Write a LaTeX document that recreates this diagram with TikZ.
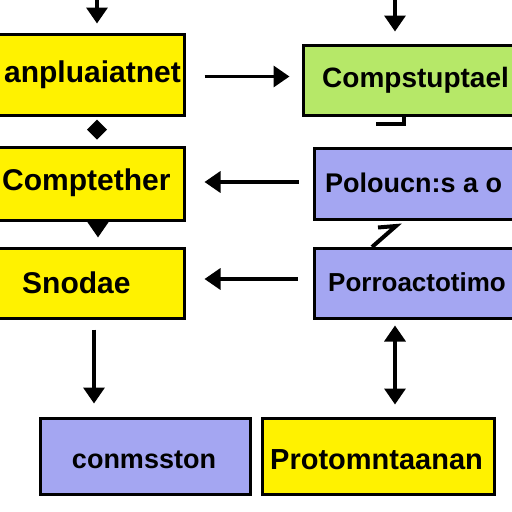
\documentclass[tikz,border=0pt]{standalone}
\usepackage{fontspec}
\setmainfont{Liberation Sans}
\usetikzlibrary{arrows.meta,calc}
\definecolor{boxyellow}{RGB}{255,242,0}
\definecolor{boxgreen}{RGB}{182,232,104}
\definecolor{boxpurple}{RGB}{164,166,242}
\tikzset{
  box/.style={draw=black, line width=3pt, inner sep=0pt},
  lbl/.style={inner sep=0pt, font=\fontsize{28}{30}\selectfont\bfseries},
  arr/.style={line width=3.5pt, -{Triangle[width=21pt,length=16pt]}},
  dblarr/.style={line width=3.5pt, {Triangle[width=21pt,length=16pt]}-{Triangle[width=21pt,length=16pt]}},
  tick/.style={line width=4pt, line join=miter}
}
\begin{document}
\begin{tikzpicture}[x=1pt,y=-1pt]
\useasboundingbox (0,0) rectangle (512,512);
\fill[white] (0,0) rectangle (512,512);
\clip (0,0) rectangle (512,512);
% boxes
\node[box, fill=boxyellow, minimum width=194pt, minimum height=81pt] (b1) at (87,74.5) {};
\node[box, fill=boxyellow, minimum width=194pt, minimum height=73pt] (b2) at (87,183.5) {};
\node[box, fill=boxyellow, minimum width=194pt, minimum height=70pt] (b3) at (87,283) {};
\node[box, fill=boxpurple, minimum width=210pt, minimum height=76pt] (b4) at (145,456) {};
\node[box, fill=boxgreen, minimum width=222pt, minimum height=70pt] (b5) at (414,80) {};
\node[box, fill=boxpurple, minimum width=211pt, minimum height=71pt] (b6) at (419.5,183.5) {};
\node[box, fill=boxpurple, minimum width=211pt, minimum height=70pt] (b7) at (419.5,283) {};
\node[box, fill=boxyellow, minimum width=232pt, minimum height=76pt] (b8) at (378,456) {};
% labels
\node[lbl, anchor=east, font=\fontsize{30}{32}\selectfont\bfseries] (t1) at (181,75) {anpluaiatnet};
\node[lbl, anchor=west, font=\fontsize{30}{32}\selectfont\bfseries] (t2) at (2,183) {Comptether};
\node[lbl, anchor=west, font=\fontsize{30}{32}\selectfont\bfseries] (t3) at (22,283) {Snodae};
\node[lbl, font=\fontsize{27}{29}\selectfont\bfseries] (t4) at (144,460) {conmsston};
\node[lbl, anchor=west] (t5) at (322,80) {Compstuptael};
\node[lbl, anchor=west, font=\fontsize{27}{29}\selectfont\bfseries] (t6) at (325,183) {Poloucn:s a o};
\node[lbl, anchor=west, font=\fontsize{26}{28}\selectfont\bfseries] (t7) at (328,282) {Porroactotimo};
\node[lbl, anchor=west, font=\fontsize{29}{31}\selectfont\bfseries] (t8) at (270,460) {Protomntaanan};
% free ends
\coordinate (in1) at (97,-5);
\coordinate (in5) at (395,-5);
% connectors
\draw[arr, shorten >=9pt] (in1) -- (in1 |- b1.north);
\draw[arr, shorten >=12pt] (in5) -- (in5 |- b5.north);
\draw[arr, shorten <=19pt, shorten >=12pt] ($(b1.east)+(0,2)$) -- ($(b1.east -| b5.west)+(0,2)$);
\draw[arr, shorten <=14pt, shorten >=19pt] ($(b6.west)+(0,-1.5)$) -- ($(b6.west -| b2.east)+(0,-1.5)$);
\draw[arr, shorten <=15pt, shorten >=19pt] ($(b7.west)+(0,-4)$) -- ($(b7.west -| b3.east)+(0,-4)$);
\fill ($(b1.south)+(10,3)$) -- ++(10,10) -- ++(-10,10) -- ++(-10,-10) -- cycle;
\draw[arr, shorten <=3pt, shorten >=9pt] ($(b2.south)+(11,0)$) -- ($(b2.south |- b3.north)+(11,0)$);
\draw[arr, shorten <=10pt, shorten >=13pt] (b3.south -| 94,0) -- (b4.north -| 94,0);
\draw[dblarr, shorten <=6pt, shorten >=12pt] (b7.south -| 395,0) -- (b8.north -| 395,0);
% small marks
\draw[tick] (376,124) -- (404,124) -- (b5.south -| 404,0);
\draw[tick] (b6.south -| 378,0) ++(0,7) -- (396,226) -- (372,247);
\end{tikzpicture}
\end{document}
